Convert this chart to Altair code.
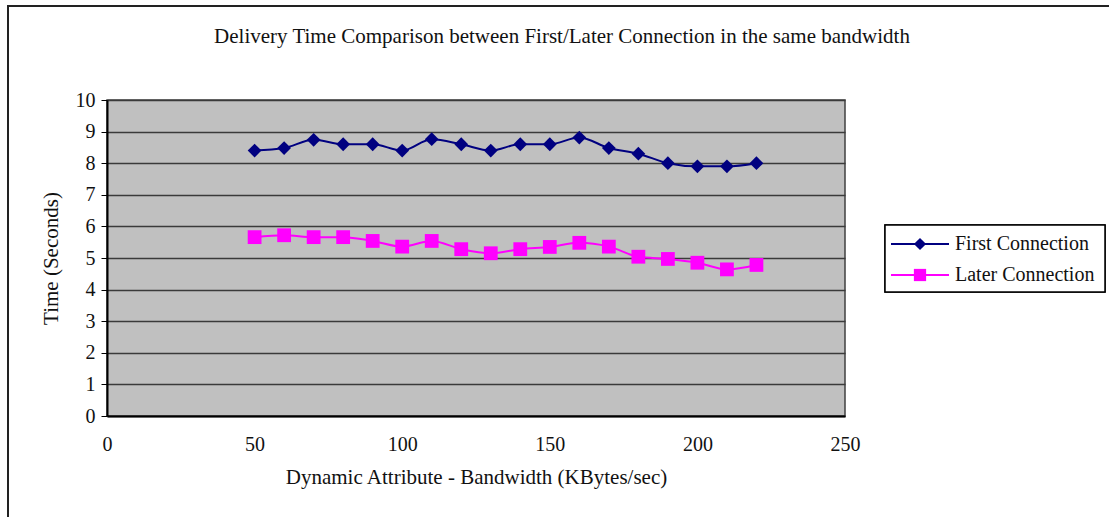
import altair as alt
import pandas as pd

bandwidth = [50, 60, 70, 80, 90, 100, 110, 120, 130, 140, 150, 160, 170, 180, 190, 200, 210, 220]
first_conn = [8.4, 8.48, 8.74, 8.6, 8.6, 8.4, 8.76, 8.6, 8.4, 8.6, 8.6, 8.81, 8.48, 8.3, 8.0, 7.9, 7.9, 8.0]
later_conn = [5.66, 5.72, 5.66, 5.66, 5.54, 5.36, 5.54, 5.28, 5.15, 5.28, 5.35, 5.48, 5.36, 5.04, 4.97, 4.85, 4.64, 4.78]
series_names = ["First Connection", "Later Connection"]
series_colors = ["#000080", "#FF00FF"]
series_shapes = ["diamond", "square"]
y_ticks = [0, 1, 2, 3, 4, 5, 6, 7, 8, 9, 10]
x_ticks = [0, 50, 100, 150, 200, 250]

FONT = "Liberation Serif"

rows = []
for b, f, l in zip(bandwidth, first_conn, later_conn):
    rows.append({"bw": b, "t": f, "series": series_names[0]})
    rows.append({"bw": b, "t": l, "series": series_names[1]})
df = pd.DataFrame(rows)
leg_df = pd.DataFrame({"series": series_names})

W, H = 738, 316

color = alt.Color("series:N", scale=alt.Scale(domain=series_names, range=series_colors), legend=None)
shape = alt.Shape("series:N", scale=alt.Scale(domain=series_names, range=series_shapes), legend=None)

x = alt.X("bw:Q", scale=alt.Scale(domain=[0, 250], nice=False),
          axis=alt.Axis(values=x_ticks, grid=False, ticks=False, labelFlush=False,
                        labelPadding=18, title="Dynamic Attribute - Bandwidth (KBytes/sec)",
                        titlePadding=12, domainColor="#000000", domainWidth=2))
y = alt.Y("t:Q", scale=alt.Scale(domain=[0, 10], nice=False),
          axis=alt.Axis(values=y_ticks, grid=True, gridColor="#3a3a3a",
                        gridWidth=1.5, labelOverlap=False, labelFlush=False,
                        ticks=True, tickSize=6, tickColor="#000000", labelPadding=6,
                        title="Time (Seconds)", titlePadding=14, domainColor="#000000", domainWidth=2))

base = alt.Chart(df)
lines = base.mark_line(strokeWidth=2, interpolate="monotone").encode(x=x, y=y, color=color, detail="series:N")
points = base.mark_point(filled=True, size=190, opacity=1).encode(x=x, y=y, color=color, shape=shape)

# legend built from series names (offset scale spreads the rows)
leg_off = alt.YOffset("series:N", scale=alt.Scale(domain=series_names, range=[0, 62]))
LEG_Y0 = 128.5
leg_box = alt.Chart(leg_df).mark_rect(fill="white", stroke="#000000", strokeWidth=1.5).encode(
    x=alt.value(778), x2=alt.value(998), y=alt.value(125), y2=alt.value(192))
leg_line = alt.Chart(leg_df).mark_rule(strokeWidth=2).encode(
    x=alt.value(784), x2=alt.value(842), y=alt.value(LEG_Y0), yOffset=leg_off, color=color)
leg_pt = alt.Chart(leg_df).mark_point(filled=True, size=150, opacity=1).encode(
    x=alt.value(813), y=alt.value(LEG_Y0), yOffset=leg_off, color=color, shape=shape)
leg_txt = alt.Chart(leg_df).mark_text(align="left", baseline="middle", font=FONT, fontSize=20, color="#111").encode(
    x=alt.value(848), y=alt.value(LEG_Y0), yOffset=leg_off, text="series:N")

frame = alt.Chart(leg_df).mark_rect(fill=None, stroke="#222222", strokeWidth=2).encode(
    x=alt.value(-99), x2=alt.value(1012), y=alt.value(-94), y2=alt.value(430))

chart = alt.layer(frame, lines, points, leg_box, leg_line, leg_pt, leg_txt).properties(
    width=W, height=H,
    title=alt.TitleParams("Delivery Time Comparison between First/Later Connection in the same bandwidth",
                          font=FONT, fontSize=21, fontWeight="normal", color="#111",
                          anchor="middle", dx=86, offset=55, dy=97, frame="group"),
    padding={"left": 107, "top": 100, "right": 264, "bottom": 101},
    autosize=alt.AutoSizeParams(type="none"),
    background="white",
).configure_view(
    fill="#C0C0C0", stroke="#404040", strokeWidth=1.5
).configure_axis(
    labelFont=FONT, titleFont=FONT, labelFontSize=20, titleFontSize=21,
    labelColor="#111", titleColor="#111", titleFontWeight="normal",
)

chart.save("out.html", embed_options={"renderer": "svg", "actions": False})
